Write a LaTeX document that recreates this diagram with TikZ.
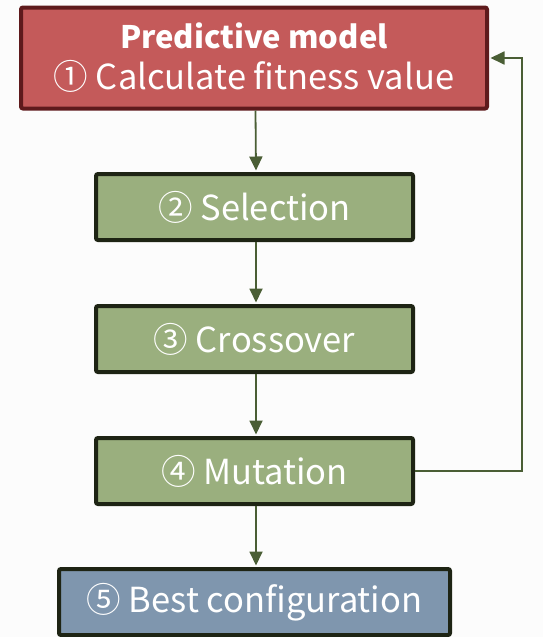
\documentclass[tikz,border=0pt]{standalone}
\usepackage{fontspec}
\setmainfont{Noto Sans CJK SC}
\usetikzlibrary{arrows.meta}
\definecolor{redfill}{HTML}{C45A5A}
\definecolor{redline}{HTML}{5E1A1C}
\definecolor{greenfill}{HTML}{9AAF7E}
\definecolor{greenline}{HTML}{1E2414}
\definecolor{bluefill}{HTML}{7F96AE}
\definecolor{flow}{HTML}{4A5E35}
\tikzset{
  stepbox/.style={draw=greenline, fill=greenfill, line width=4pt, rounded corners=2pt,
    minimum width=317pt, minimum height=66pt, inner sep=0pt, text=white,
    font=\fontsize{34.5}{40}\selectfont},
  modelbox/.style={stepbox, draw=redline, fill=redfill, minimum width=466pt,
    minimum height=101pt, align=center},
  resultbox/.style={stepbox, fill=bluefill, minimum width=391pt},
  flowline/.style={draw=flow, line width=1.8pt, -{Triangle[length=14pt,width=13pt]}, shorten >=1.5pt}
}
\begin{document}
\begin{tikzpicture}[x=1pt,y=1pt]
  \useasboundingbox[fill=white!99!black] (0,0) rectangle (543,-637);
  \node[modelbox] (model) at (254,-58)
    {{\fontsize{31}{40}\selectfont\textbf{Predictive model}}\\[1pt]① Calculate fitness value};
  \node[stepbox] (sel) at (254.5,-207) {② Selection};
  \node[stepbox] (cross) at (254.5,-339) {③ Crossover};
  \node[stepbox] (mut) at (254.5,-471) {④ Mutation};
  \node[resultbox] (best) at (254.5,-602) {⑤ Best configuration};
  \coordinate (fb) at (522,-300);
  \draw[flowline] ([xshift=1.5pt]model.south) -- ([xshift=1.5pt]sel.north);
  \draw[flowline] ([xshift=1.5pt]sel.south) -- ([xshift=1.5pt]cross.north);
  \draw[flowline] ([xshift=1.5pt]cross.south) -- ([xshift=1.5pt]mut.north);
  \draw[flowline] ([xshift=1.5pt]mut.south) -- ([xshift=1.5pt]best.north);
  \draw[flowline] (mut.east) -- (mut.east -| fb) -- (model.east -| fb) -- (model.east);
\end{tikzpicture}
\end{document}
